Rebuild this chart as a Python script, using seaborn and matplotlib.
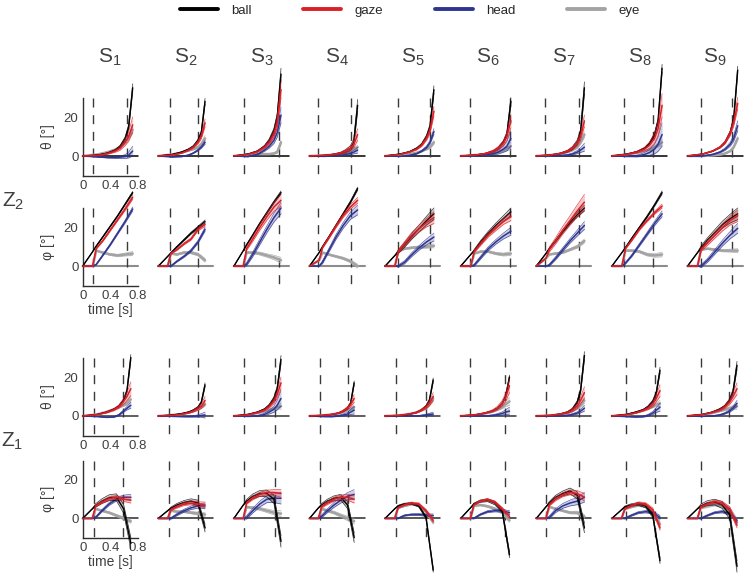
import numpy as np
import matplotlib
matplotlib.use("Agg")
import matplotlib.pyplot as plt
import seaborn as sns
from matplotlib.lines import Line2D

sns.set_style("white")
plt.rcParams["font.family"] = ["Liberation Sans", "DejaVu Sans"]
plt.rcParams["mathtext.fontset"] = "custom"
plt.rcParams["mathtext.rm"] = "Liberation Sans"
plt.rcParams["mathtext.it"] = "Liberation Sans:italic"

subjects = ["1", "2", "3", "4", "5", "6", "7", "8", "9"]
signals = ["ball", "gaze", "head", "eye"]
colors = {"ball": "#000000", "gaze": "#dc1f26", "head": "#2e3590", "eye": "#a3a3a3"}

# sample points as fraction of trial duration, and fan-out profile of the bundles
frac_th = [0, 0.3, 0.5, 0.65, 0.75, 0.85, 0.92, 1.0]
frac_ph = [0, 0.2, 0.27, 0.4, 0.55, 0.7, 0.85, 1.0]
prof_th = [0, 0.03, 0.08, 0.15, 0.25, 0.4, 0.6, 1.0]
prof_ph = [0, 0, 0.3, 0.4, 0.5, 0.6, 0.75, 1.0]

# trial end [s] and dashed event markers [s]
t_end_z2 = [0.727, 0.68, 0.685, 0.70, 0.71, 0.73, 0.70, 0.73, 0.73]
t_end_z1 = [0.70, 0.68, 0.685, 0.65, 0.70, 0.71, 0.70, 0.70, 0.72]
dash1_z2 = [0.154, 0.17, 0.15, 0.124, 0.19, 0.135, 0.13, 0.18, 0.19]
dash2_z2 = [0.64, 0.58, 0.66, 0.61, 0.66, 0.71, 0.62, 0.60, 0.65]
dash1_z1 = [0.165, 0.155, 0.15, 0.15, 0.16, 0.14, 0.14, 0.21, 0.19]
dash2_z1 = [0.59, 0.58, 0.60, 0.56, 0.60, 0.64, 0.62, 0.62, 0.60]

# ---- Z2, theta ----
th_z2_ball = [[0, 0.5, 1.5, 3, 5, 9, 15, 35], [0, 0.8, 2, 3.5, 5, 8, 12, 28],
              [0, 1, 2.5, 5, 8, 13, 20, 42], [0, 0.3, 0.8, 1.5, 2.5, 4, 7, 26],
              [0, 1, 2.2, 4, 6, 10, 15, 34], [0, 0.5, 1.3, 2.5, 4, 7, 11, 28],
              [0, 0.5, 1.3, 2.5, 4, 7, 12, 35], [0, 1, 2.2, 4, 6.5, 11, 18, 45],
              [0, 1, 2.5, 4.5, 7, 12, 19, 44]]
th_z2_gaze = [[0, 0.3, 1.2, 2.5, 4, 7, 10, 16], [0, 0.5, 1.5, 3, 4.5, 7, 10, 17],
              [0, 0.8, 2.2, 4.5, 7, 11, 17, 34], [0, 0.3, 0.8, 1.5, 2.5, 4, 6, 11],
              [0, 0.8, 2, 3.5, 5.5, 9, 13, 23], [0, 0.5, 1.3, 2.5, 4, 6.5, 10, 18],
              [0, 0.5, 1.3, 2.5, 4, 6.5, 10, 18], [0, 0.8, 2, 3.5, 5.5, 9, 14, 26],
              [0, 1, 2.5, 4.5, 7, 11.5, 17, 27]]
th_z2_head = [[0, -0.5, -0.8, -0.8, -0.6, -0.3, 0.5, 2.5], [0, -0.5, -0.3, 0.5, 1.5, 3, 4.5, 7],
              [0, -0.3, 0.8, 3, 5, 8, 12, 21], [0, -0.2, 0, 0.3, 0.8, 1.3, 2, 3],
              [0, -0.2, 0.3, 1.2, 2.5, 4.5, 7, 12.5], [0, 0, 0.5, 1.2, 2, 3.5, 5, 9],
              [0, 0, 0.2, 0.5, 1, 2, 3, 4.5], [0, -0.2, 0, 0.8, 1.8, 3.5, 6, 11],
              [0, 0, 0.8, 2, 3.5, 6, 9, 15.5]]
th_z2_eye = [[0, 0.8, 2, 3.3, 4.6, 7, 9.5, 13.5], [0, 0.8, 1.8, 2.8, 3.5, 4.5, 6, 9],
             [0, 0.8, 1, 1, 1, 1.3, 2, 7], [0, 0.3, 0.7, 1.2, 1.7, 2.5, 3.5, 4.5],
             [0, 0.5, 1, 1.7, 2.5, 3.5, 4.5, 7], [0, 0.5, 0.8, 1.3, 2, 3, 4, 5],
             [0, 0.5, 1.2, 2, 3, 4.5, 7, 11], [0, 0.8, 1.6, 2.5, 3.2, 4.5, 5.5, 7],
             [0, 0, 0.3, 0.7, 1.3, 2.5, 4.5, 9]]
th_z2_spread = {"ball": [2, 1.5, 3, 3, 2, 2, 3, 2, 2],
                "gaze": [4, 2, 4, 3, 2.5, 3.5, 3, 6, 3],
                "head": [2.5, 1, 4, 1.5, 1.5, 4, 2, 6, 2.5],
                "eye": [1.5, 1.5, 1, 1, 1, 2, 1.5, 1.5, 1]}

# ---- Z2, phi ----
ph_z2_ball = [[0, 7.5, 10.3, 15, 20.5, 26, 32, 38], [0, 5, 6.8, 10, 13.5, 17, 20, 23],
              [0, 8, 11, 16, 22, 27.5, 33, 38], [0, 7, 10, 15, 21, 27, 33, 40],
              [0, 5.5, 7.5, 11, 15.5, 19.5, 23.5, 27], [0, 6, 8, 12.5, 17, 21, 24.5, 28],
              [0, 6.5, 9, 13, 18, 22.5, 26.5, 30], [0, 7, 9.5, 14.5, 20, 25.5, 31.5, 38],
              [0, 7, 9.5, 13.5, 17.5, 21.5, 24.5, 27]]
ph_z2_gaze = [[0, 0, 9, 13, 18.5, 24, 29.5, 35.5], [0, 0, 6.5, 8.5, 11.5, 14, 19, 21.5],
              [0, 0, 9, 14, 20, 25.5, 30.5, 34], [0, 3, 9.5, 14.5, 20.5, 26, 30.5, 34],
              [0, 0, 7.5, 11.5, 16, 19.5, 22.5, 25], [0, 0, 7.5, 11.5, 16, 19.5, 23, 25.5],
              [0, 4, 8.5, 13, 18.5, 23.5, 28.5, 33], [0, 0, 9, 13.5, 19, 23.5, 27.5, 31],
              [0, 0, 8.5, 12, 16, 20, 23.5, 26]]
ph_z2_head = [[0, 0, 0.8, 5.5, 11, 17, 23, 29.5], [0, 0, 0, 2.5, 5, 8, 12.5, 19],
              [0, 0, 1, 6, 12.5, 19, 25, 30], [0, 0, 2, 8, 15, 21, 26, 29],
              [0, 0, 0, 2, 6, 9.5, 12.5, 15], [0, 0, 0.5, 4.5, 9, 12.5, 15.5, 18],
              [0, 0, 0.5, 4, 8.5, 13, 17, 21], [0, 0, 1.5, 5.5, 11, 16.5, 22, 27],
              [0, 0, 0, 3, 7.5, 12, 16, 19.5]]
ph_z2_eye = [[0, 0, 8, 7, 6, 5.5, 6, 6.5], [0, 0, 6.5, 6, 7, 7, 6, 3],
             [0, 0, 7, 7, 6.5, 5.5, 4.5, 3], [0, 3, 7, 6, 5, 4, 2.5, 0],
             [0, 0, 7.5, 9, 9.5, 9.8, 10, 10.5], [0, 0, 6.5, 7.5, 7.5, 6.5, 6, 6.5],
             [0, 4, 6, 6.5, 7, 8.5, 10, 13], [0, 0, 8, 8, 7.5, 6, 5.5, 6],
             [0, 0, 8.5, 9, 8.5, 8, 8, 8]]
ph_z2_spread = {"ball": [0.5, 0.8, 0.8, 0.8, 3, 2, 1.5, 0.8, 3],
                "gaze": [1, 1, 3, 1.5, 3, 2, 4, 1, 3],
                "head": [1, 1, 3, 2.5, 2, 2, 2, 1.5, 2.5],
                "eye": [1, 1, 1.5, 1, 1, 1, 1, 1.2, 1]}

# ---- Z1, theta ----
th_z1_ball = [[0, 0.8, 2, 3.5, 5, 8, 13, 30], [0, 0.5, 1.2, 2, 3, 4.5, 7, 16],
              [0, 0.8, 2, 3.5, 5.5, 9, 14, 29], [0, 0.3, 0.8, 1.5, 2.5, 4, 6.5, 17],
              [0, 0.3, 0.9, 1.8, 3, 5, 8, 18.5], [0, 0.6, 1.5, 2.6, 4, 6.5, 10, 20],
              [0, 0.3, 1, 2, 3.5, 7, 13, 31], [0, 0.8, 2, 3.2, 4.8, 7.5, 11.5, 23.5],
              [0, 0.8, 2, 3.5, 5, 8, 12.5, 26]]
th_z1_gaze = [[0, 0.7, 1.8, 3.2, 4.8, 7.5, 10, 14], [0, 0.3, 0.9, 1.6, 2.5, 3.8, 5, 8],
              [0, 0.6, 1.7, 3, 4.8, 7.5, 11, 17], [0, 0.3, 0.8, 1.5, 2.5, 4, 5.8, 9],
              [0, 0.3, 1, 1.8, 3, 4.5, 6.5, 10], [0, 0.6, 1.5, 2.6, 4, 6.5, 9.5, 15.5],
              [0, 0.3, 1, 1.8, 3, 5, 8, 12], [0, 0.6, 1.6, 2.8, 4, 6, 9, 13],
              [0, 0.7, 1.8, 3, 4.5, 7, 10, 14]]
th_z1_head = [[0, -0.3, -0.7, -0.5, 0.5, 2.5, 4, 5.5], [0, -0.2, -0.3, -0.3, -0.2, 0, 0.3, 0.5],
              [0, -0.2, 0, 0.8, 2, 3.5, 5.5, 9], [0, -0.3, -0.3, 0, 0.5, 1, 2, 3],
              [0, 0, 0, 0, 0.2, 0.5, 0.8, 1], [0, 0, 0, 0.3, 0.7, 1.3, 2, 2.5],
              [0, 0, 0, 0.3, 0.8, 1.5, 2.5, 4], [0, -0.3, -0.5, -0.3, 0.3, 1.5, 3, 4.5],
              [0, -0.2, 0, 0.5, 1.3, 2.5, 4, 6.5]]
th_z1_eye = [[0, 0.8, 2.2, 3.5, 4.5, 5.5, 6.5, 8.5], [0, 0.5, 1, 1.8, 2.5, 3.5, 4.5, 6],
             [0, 0.6, 1.5, 2.3, 3, 3.8, 4.5, 5], [0, 0.3, 0.8, 1.3, 2, 3, 3.5, 4.5],
             [0, 0.3, 1, 1.8, 2.8, 4, 6, 9], [0, 0.5, 1.3, 2.2, 3.2, 4.5, 6, 7.5],
             [0, 0.3, 0.8, 1.5, 2.5, 4, 5.5, 8], [0, 0.6, 1.8, 3, 3.8, 4.8, 5.8, 6.5],
             [0, 0.6, 1.5, 2.5, 3.2, 4, 4.5, 5]]
th_z1_spread = {"ball": [1.5, 1, 2, 1, 1, 1, 2, 1.5, 2],
                "gaze": [3.5, 2, 3, 2, 2, 3.5, 3, 3, 3],
                "head": [1.5, 1.5, 4, 2, 1, 2, 1.5, 2, 1.5],
                "eye": [1.5, 1, 1.5, 1, 1.5, 2, 1.5, 1.5, 1.5]}

# ---- Z1, phi ----
ph_z1_ball = [[0, 5, 6.8, 9, 10.8, 11, 5, -13], [0, 4, 5.3, 7, 8.3, 9, 8, -5],
              [0, 7, 9, 11.5, 13, 13, 10, -12], [0, 5.5, 7, 9, 10.5, 11, 7, -10],
              [0, 5, 6.5, 7.5, 7.8, 6.5, 0.5, -27], [0, 5.5, 7.5, 9, 9.5, 8, 4, -19],
              [0, 6, 8, 11, 13, 14.3, 12, -5], [0, 4.5, 6, 7, 7.5, 6.5, 1.5, -22],
              [0, 5, 6.5, 8, 8.5, 7, 2, -25]]
ph_z1_gaze = [[0, 0, 6.5, 8.5, 10.3, 11, 10, 9.5], [0, 0, 4.5, 6, 7.5, 8, 7.5, 7],
              [0, 0, 8, 10.5, 12.5, 13.5, 13.5, 13], [0, 0, 6, 8, 10, 11, 11, 10],
              [0, 0, 5.5, 7, 8, 7.5, 4, -1], [0, 0, 7, 9, 9.8, 8.5, 5, 1],
              [0, 0, 7, 10, 12.3, 13.5, 13, 11], [0, 0, 5, 6.5, 8, 7.5, 4.5, -5],
              [0, 0, 6, 7.5, 8.8, 8, 5, -3.5]]
ph_z1_head = [[0, 0, 0.5, 4, 7.5, 10, 11, 11], [0, 0, 0, 2, 4, 5.5, 6.5, 6.5],
              [0, 0, 0.5, 4, 7.5, 10, 10.5, 10.5], [0, 0, 1, 4, 7, 9.5, 11.5, 12.5],
              [0, 0, 0, 1.5, 2, 2, 1.7, 1.5], [0, 0, 0, 2, 3.5, 4, 4, 3],
              [0, 0, 0.5, 4, 6.5, 8, 9, 11], [0, 0, 0, 1.5, 3, 3.5, 3, 0.5],
              [0, 0, 0, 1.5, 3, 3.5, 2.5, -1]]
ph_z1_eye = [[0, 0, 5, 4, 3, 1.5, 0, -1.5], [0, 0, 4, 3.5, 3.5, 3, 2.5, 2],
             [0, 0, 6, 5.5, 5, 4, 3, 2.5], [0, 0, 5, 4, 3, 1.5, 0, -1.5],
             [0, 0, 5.5, 6.5, 7.5, 7, 3.5, -2], [0, 0, 6.5, 7, 6.3, 5, 3, -1],
             [0, 0, 6, 5, 4, 3, 3, 1], [0, 0, 5, 6, 7, 6.5, 3, -3],
             [0, 0, 5.5, 6.5, 7.5, 7, 4.5, -2]]
ph_z1_spread = {"ball": [3, 2, 3, 2.5, 1, 1.5, 2.5, 1.5, 3],
                "gaze": [1.5, 1.5, 2, 2, 1, 1, 2, 1.2, 1.5],
                "head": [1.5, 1.5, 3, 2.5, 0.8, 1, 2.5, 1, 1],
                "eye": [1, 1, 1.5, 1.5, 1, 1, 1, 1.5, 2]}

rows = [
    dict(frac=frac_th, prof=prof_th, t_end=t_end_z2, d1=dash1_z2, d2=dash2_z2,
         data=dict(ball=th_z2_ball, gaze=th_z2_gaze, head=th_z2_head, eye=th_z2_eye),
         spread=th_z2_spread, top=97.5, h=78, zc="#000000", zw=1.1, ylabel="θ [°]", xlabel=False),
    dict(frac=frac_ph, prof=prof_ph, t_end=t_end_z2, d1=dash1_z2, d2=dash2_z2,
         data=dict(ball=ph_z2_ball, gaze=ph_z2_gaze, head=ph_z2_head, eye=ph_z2_eye),
         spread=ph_z2_spread, top=208, h=77.5, zc="#8c8c8c", zw=1.5, ylabel="φ [°]", xlabel=True),
    dict(frac=frac_th, prof=prof_th, t_end=t_end_z1, d1=dash1_z1, d2=dash2_z1,
         data=dict(ball=th_z1_ball, gaze=th_z1_gaze, head=th_z1_head, eye=th_z1_eye),
         spread=th_z1_spread, top=357.5, h=78, zc="#333333", zw=1.1, ylabel="θ [°]", xlabel=False),
    dict(frac=frac_ph, prof=prof_ph, t_end=t_end_z1, d1=dash1_z1, d2=dash2_z1,
         data=dict(ball=ph_z1_ball, gaze=ph_z1_gaze, head=ph_z1_head, eye=ph_z1_eye),
         spread=ph_z1_spread, top=460.8, h=76.8, zc="#2a2a2a", zw=1.1, ylabel="φ [°]", xlabel=True),
]

W, H = 745, 573
fig = plt.figure(figsize=(W / 100, H / 100), dpi=100)
draw_order = ["eye", "head", "ball", "gaze"]
line_w = {"ball": 1.0, "gaze": 1.1, "head": 1.1, "eye": 1.8}
txt_col = "#404040"

for row in rows:
    for c in range(9):
        x0 = 82.7 + 75.6 * c
        ax = fig.add_axes([x0 / W, 1 - (row["top"] + row["h"]) / H, 55 / W, row["h"] / H])
        ax.set_xlim(0, 0.8)
        ax.set_ylim(-10, 30)
        ax.patch.set_alpha(0)
        ax.plot([0, 0.8], [0, 0], color=row["zc"], lw=row["zw"], clip_on=False, zorder=1)
        for td in (row["d1"][c], row["d2"][c]):
            ax.plot([td, td], [30, -10], color="#3a3a3a", lw=1.0, dashes=(6.5, 5.5),
                    clip_on=False, zorder=1)
        t = np.array(row["frac"]) * row["t_end"][c]
        prof = np.array(row["prof"])
        for k, sig in enumerate(draw_order):
            y = np.array(row["data"][sig][c], dtype=float)
            w = row["spread"][sig][c] * prof
            col = colors[sig]
            ax.fill_between(t, y - w, y + w, color=col, alpha=0.25, lw=0, clip_on=False, zorder=2 + k)
            ax.plot(t, y - w, color=col, lw=0.5, alpha=0.8, clip_on=False, zorder=2 + k)
            ax.plot(t, y + w, color=col, lw=0.5, alpha=0.8, clip_on=False, zorder=2 + k)
            sns.lineplot(x=t, y=y, ax=ax, color=col, lw=line_w[sig],
                         sort=False, estimator=None, clip_on=False, zorder=2 + k)
        if c == 0:
            for s in ["top", "right"]:
                ax.spines[s].set_visible(False)
            ax.spines["left"].set_bounds(-10, 30)
            ax.spines["bottom"].set_bounds(0, 0.8)
            for s in ["left", "bottom"]:
                ax.spines[s].set_color("#303030")
                ax.spines[s].set_linewidth(1.0)
            ax.set_yticks([0, 20])
            ax.set_yticklabels(["0", "20"])
            ax.set_xticks([0, 0.4, 0.8])
            ax.set_xticklabels(["0", "0.4", "0.8"])
            ax.tick_params(length=0, labelsize=9.5, colors=txt_col, pad=3)
            ax.set_ylabel(row["ylabel"], fontsize=10, color=txt_col, labelpad=6)
            if row["xlabel"]:
                ax.set_xlabel("time [s]", fontsize=10, color=txt_col, labelpad=1)
            else:
                ax.set_xlabel("")
        else:
            ax.set_axis_off()

for c, s in enumerate(subjects):
    xc = 82.7 + 75.6 * c + 27.5
    fig.text(xc / W, 1 - 57 / H, r"$\mathrm{S}_{%s}$" % s, fontsize=15, color=txt_col,
             ha="center", va="center")

fig.text(13 / W, 1 - 201 / H, r"$\mathrm{Z}_{2}$", fontsize=15, color=txt_col, ha="center", va="center")
fig.text(12 / W, 1 - 441 / H, r"$\mathrm{Z}_{1}$", fontsize=15, color=txt_col, ha="center", va="center")

handles = [Line2D([], [], color=colors[s], lw=2.8) for s in signals]
fig.legend(handles, signals, loc="center", bbox_to_anchor=(0.55, 1 - 11 / H), ncol=4,
           frameon=False, handlelength=2.9, columnspacing=3.9, handletextpad=1.0, fontsize=9.5)

fig.savefig("out.png", dpi=100)
